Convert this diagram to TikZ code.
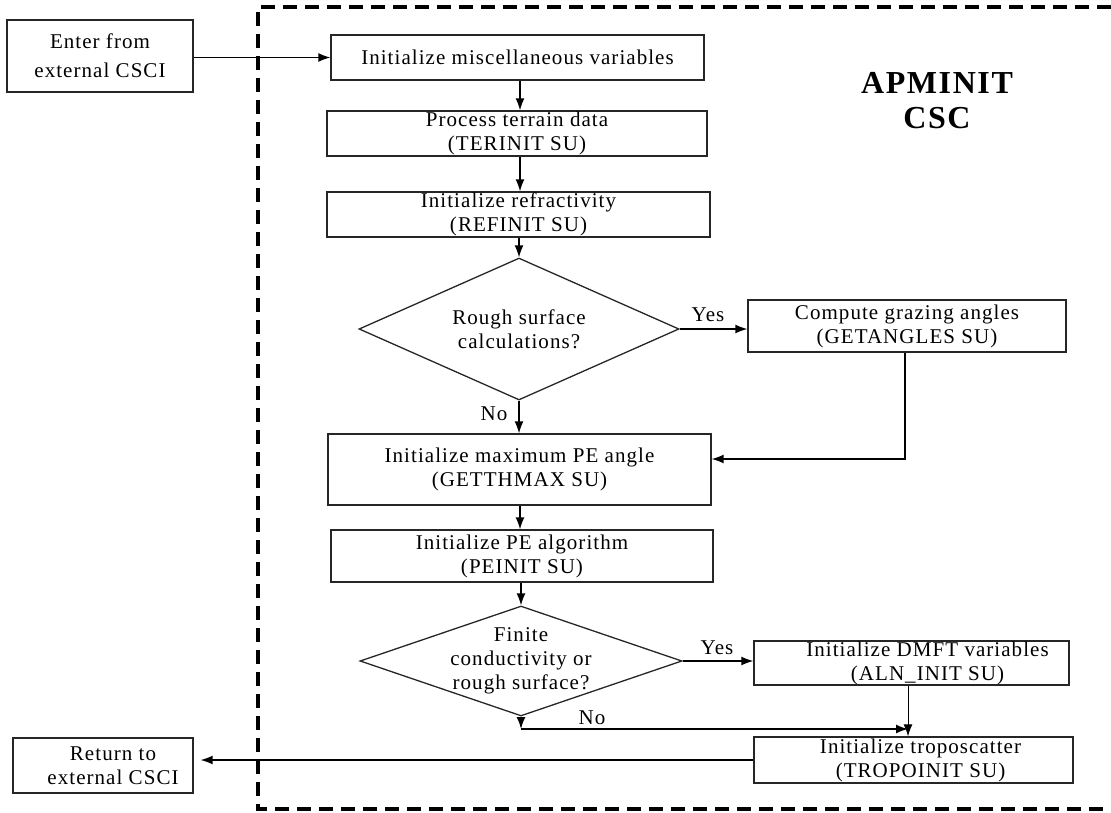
\documentclass[tikz,border=0pt]{standalone}
\usepackage{fontspec}
\setmainfont{Liberation Serif}[LetterSpace=5]
\usetikzlibrary{shapes.geometric,arrows.meta}

\begin{document}
\begin{tikzpicture}[x=1pt,y=-1pt,
  every node/.style={font=\fontsize{21}{24}\selectfont},
  box/.style={draw=black!85, line width=1.3pt, align=center, inner sep=0pt},
  dec/.style={draw=black!85, diamond, line width=1.3pt, inner sep=0pt},
  flow/.style={line width=1.4pt, -{Latex[length=12pt,width=9pt]}},
  frame/.style={line width=3.5pt, dash pattern=on 14pt off 8pt},
  lbl/.style={inner sep=0pt},
  title/.style={font=\fontsize{32}{35}\selectfont\bfseries, align=center}]

\useasboundingbox (0,0) rectangle (1111,813);

% CSC boundary
\draw[frame] (1111,7) -| (258,809) -- (1111,809);
\node[title] (csc) at (937,101) {APMINIT\\CSC};

% external entry / exit
\node[box, minimum width=186pt, minimum height=72pt] (enter) at (100,56) {Enter from\\[5pt]external CSCI};
\node[box, minimum width=180pt, minimum height=55pt] (ret) at (103,765.5) {\hspace*{20pt}Return to\\\hspace*{20pt}external CSCI};

% main column
\node[box, minimum width=373pt, minimum height=45pt] (misc) at (517.5,57.5) {Initialize miscellaneous variables};
\node[box, minimum width=380pt, minimum height=45pt] (terr) at (517,133.5) {Process terrain data\\(TERINIT SU)};
\node[box, minimum width=383pt, minimum height=45pt] (refr) at (518.5,214.5) {Initialize refractivity\\(REFINIT SU)};
\node[dec, minimum width=320pt, minimum height=142pt,
  label={[lbl, align=center]center:Rough surface\\calculations?}] (d1) at (519,329) {};
\node[box, minimum width=318pt, minimum height=52pt] (ga) at (907,326) {Compute grazing angles\\(GETANGLES SU)};
\node[box, minimum width=383pt, minimum height=71pt] (gm) at (519.5,469.5) {Initialize maximum PE angle\\(GETTHMAX SU)};
\node[box, minimum width=382pt, minimum height=52pt] (pe) at (522,556) {Initialize PE algorithm\\(PEINIT SU)};
\node[dec, minimum width=322pt, minimum height=110pt,
  label={[lbl, align=center]center:Finite\\conductivity or\\rough surface?}] (d2) at (521,661) {};
\node[box, minimum width=315pt, minimum height=44pt] (dm) at (911.5,663) {\hspace*{32pt}Initialize DMFT variables\\\hspace*{32pt}(ALN\_INIT SU)};
\node[box, minimum width=319pt, minimum height=46pt] (tr) at (913.5,760) {\hspace*{14pt}Initialize troposcatter\\\hspace*{14pt}(TROPOINIT SU)};

% branch labels
\node[lbl] (yes1) at (708,315) {Yes};
\node[lbl] (no1) at (494,414) {No};
\node[lbl] (yes2) at (717,648) {Yes};
\node[lbl] (no2) at (592,718) {No};

% routing points
\coordinate (spine) at (520,0);
\coordinate (gaturn) at (905,459);
\coordinate (d2turn) at (521,729);
\coordinate (merge) at (908,729);

% connectors
\draw[flow] (enter.east |- misc.west) -- (misc.west);
\draw[flow] (spine |- misc.south) -- (spine |- terr.north);
\draw[flow] (spine |- terr.south) -- (spine |- refr.north);
\draw[flow] (refr.south -| d1.north) -- (d1.north);
\draw[flow] (d1.east) -- (d1.east -| ga.west);
\draw[flow] (d1.south) -- (d1.south |- gm.north);
\draw[flow] (ga.south -| gaturn) -- (gaturn) -- (gaturn -| gm.east);
\draw[flow] (spine |- gm.south) -- (spine |- pe.north);
\draw[flow] (pe.south -| d2.north) -- (d2.north);
\draw[flow] (d2.east) -- (d2.east -| dm.west);
\draw[flow] (d2.south) -- (d2turn);
\draw[flow] (d2turn) -- (merge);
\draw[flow, line width=1pt] (dm.south -| merge) -- (tr.north -| merge);
\draw[flow] (tr.west) -- ([xshift=7pt]tr.west -| ret.east);
\end{tikzpicture}
\end{document}
